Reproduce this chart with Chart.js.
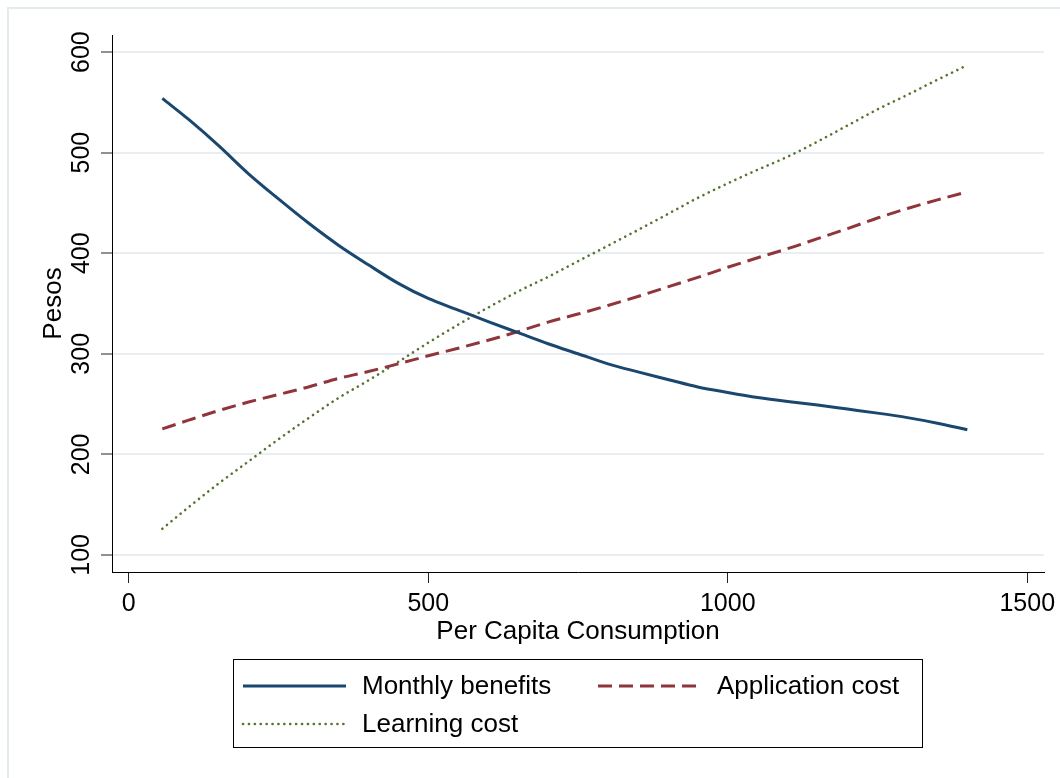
<!DOCTYPE html>
<html><head><meta charset="utf-8">
<script src="https://cdn.jsdelivr.net/npm/chart.js@4.4.1/dist/chart.umd.min.js"></script>
<style>html,body{margin:0;padding:0;background:#fff;} canvas{display:block;}</style>
</head><body>
<canvas id="c" width="1060" height="778"></canvas>
<script>
// ---- data ----
const consumption     = [56, 100, 150, 200, 250, 300, 350, 400, 450, 500, 550, 600, 650, 700, 750, 800, 850, 900, 950, 1000, 1050, 1100, 1150, 1200, 1250, 1300, 1350, 1400];
const monthlyBenefits = [554, 533, 507, 479, 454, 430, 408, 388.5, 370, 355, 343.5, 332, 321, 310, 300, 290, 282, 274.5, 267, 261.5, 256.5, 252.5, 249, 245, 241, 236.5, 231, 224.5];
const applicationCost = [225.3, 234, 243.5, 252, 259.5, 267, 275.5, 282.3, 290, 298, 305.5, 313.5, 322, 331.5, 339.5, 348, 357, 366.5, 376, 386, 395.5, 404.5, 414.5, 424.5, 435, 444.5, 453, 461];
const learningCost    = [126, 147.5, 171, 193, 215, 236, 256, 273.5, 292, 311, 329, 346, 362, 376.5, 392, 407.5, 423, 439, 455, 469.5, 483, 496, 511, 527, 543, 557.5, 572.5, 587];
const seriesNames = ['Monthly benefits', 'Application cost', 'Learning cost'];
const xTickValues = [0, 500, 1000, 1500];
const yTickValues = [100, 200, 300, 400, 500, 600];
const xTitle = 'Per Capita Consumption';
const yTitle = 'Pesos';

const FONT = '"Liberation Sans", Arial, Helvetica, sans-serif';
const toPoints = ys => consumption.map((x, i) => ({x: x, y: ys[i]}));

const framePlugin = {
  id: 'frame',
  beforeDraw(chart) {
    const ctx = chart.ctx;
    ctx.save();
    ctx.fillStyle = '#ffffff';
    ctx.fillRect(0, 0, chart.width, chart.height);
    ctx.strokeStyle = '#e4ebef';
    ctx.lineWidth = 2;
    ctx.beginPath();
    ctx.moveTo(8, chart.height);
    ctx.lineTo(8, 8);
    ctx.lineTo(chart.width, 8);
    ctx.stroke();
    ctx.restore();
  }
};

const boxLegend = {
  id: 'boxLegend',
  afterDraw(chart) {
    const ctx = chart.ctx;
    const box = {l: 233.5, t: 659.5, r: 922.5, b: 747.5};
    const colX = [243, 598];
    const rowY = [686, 724];
    const place = [[0, 0], [1, 0], [0, 1]];
    const sample = 103, gap = 16;
    ctx.save();
    ctx.strokeStyle = '#000';
    ctx.lineWidth = 1;
    ctx.strokeRect(box.l, box.t, box.r - box.l, box.b - box.t);
    chart.data.datasets.forEach((ds, i) => {
      const [c, r] = place[i];
      const x = colX[c], y = rowY[r];
      ctx.save();
      ctx.strokeStyle = ds.borderColor;
      ctx.lineWidth = ds.borderWidth;
      ctx.lineCap = ds.borderCapStyle || 'butt';
      ctx.setLineDash(ds.borderDash || []);
      ctx.beginPath();
      ctx.moveTo(x, y);
      ctx.lineTo(x + sample, y);
      ctx.stroke();
      ctx.restore();
      ctx.fillStyle = '#000';
      ctx.font = '26px ' + FONT;
      ctx.textBaseline = 'middle';
      ctx.textAlign = 'left';
      ctx.fillText(ds.label, x + sample + gap, y + 1);
    });
    ctx.restore();
  }
};

new Chart(document.getElementById('c'), {
  type: 'scatter',
  data: {
    datasets: [
      { label: seriesNames[0], data: toPoints(monthlyBenefits), showLine: true, cubicInterpolationMode: 'monotone',
        borderColor: '#1a476f', borderWidth: 3, pointRadius: 0, borderJoinStyle: 'round' },
      { label: seriesNames[1], data: toPoints(applicationCost), showLine: true, cubicInterpolationMode: 'monotone',
        borderColor: '#90353b', borderWidth: 3, borderDash: [14, 7], pointRadius: 0 },
      { label: seriesNames[2], data: toPoints(learningCost), showLine: true, cubicInterpolationMode: 'monotone',
        borderColor: '#55752f', borderWidth: 2.6, borderDash: [0.1, 5.8], borderCapStyle: 'round', pointRadius: 0 }
    ]
  },
  options: {
    responsive: false,
    animation: false,
    devicePixelRatio: 1,
    layout: { padding: { left: 0, top: 35, right: 16, bottom: 131 } },
    plugins: { legend: { display: false }, tooltip: { enabled: false } },
    scales: {
      x: {
        type: 'linear', min: -28, max: 1528,
        afterBuildTicks: s => { s.ticks = xTickValues.map(v => ({value: v})); },
        afterFit: s => { s.height = 75; s.paddingLeft = 0; s.paddingRight = 0; },
        grid: { drawOnChartArea: false, drawTicks: true, tickLength: 11, tickColor: '#222', tickWidth: 1 },
        border: { display: true, color: '#000', width: 1 },
        ticks: { autoSkip: false, maxRotation: 0, minRotation: 0, padding: 6, color: '#000',
                 callback: v => String(v),
                 font: { family: FONT, size: 25 } },
        title: { display: true, text: xTitle, color: '#000', padding: { top: 0, bottom: 0 },
                 font: { family: FONT, size: 26 } }
      },
      y: {
        type: 'linear', min: 83, max: 617,
        afterBuildTicks: s => { s.ticks = yTickValues.map(v => ({value: v})); },
        afterFit: s => { s.width = 112; s.paddingTop = 0; s.paddingBottom = 0; },
        grid: { drawOnChartArea: true, color: '#e8eef2', lineWidth: 2, drawTicks: true, tickLength: 11, tickColor: '#222', tickWidth: 1 },
        border: { display: true, color: '#000', width: 1 },
        ticks: { autoSkip: false, minRotation: 90, maxRotation: 90, crossAlign: 'center', padding: -2, color: '#000',
                 callback: v => String(v),
                 font: { family: FONT, size: 25 } },
        title: { display: true, text: yTitle, color: '#000', padding: { top: 38, bottom: 0 },
                 font: { family: FONT, size: 26 } }
      }
    }
  },
  plugins: [framePlugin, boxLegend]
});
</script>
</body></html>
